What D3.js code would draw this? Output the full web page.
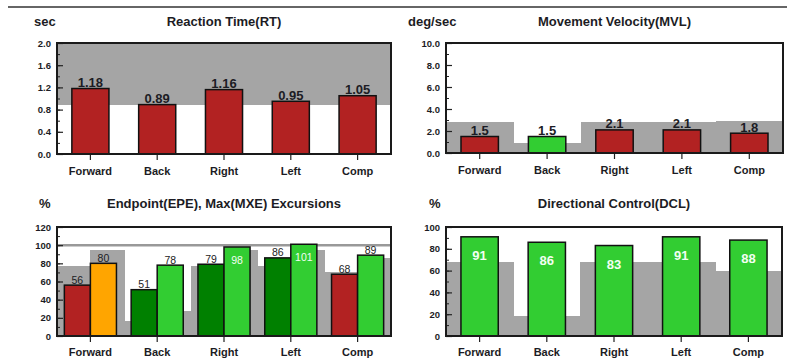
<!DOCTYPE html>
<html><head><meta charset="utf-8">
<script src="https://cdn.jsdelivr.net/npm/d3@7/dist/d3.min.js"></script>
<style>
body{margin:0;background:#fff;}
svg{display:block;font-family:"Liberation Sans",Arial,sans-serif;}
</style>
</head><body>
<svg width="787" height="358"></svg>
<script>
// ---------- data ----------
const categories = ["Forward", "Back", "Right", "Left", "Comp"];

const rtValues   = [1.18, 0.89, 1.16, 0.95, 1.05];
const rtNormLow  = [0.88, 0.88, 0.88, 0.88, 0.88];
const rtTicks    = [0, 0.4, 0.8, 1.2, 1.6, 2.0];

const mvlValues  = [1.5, 1.5, 2.1, 2.1, 1.8];
const mvlNorm    = [2.8, 0.9, 2.8, 2.8, 2.9];
const mvlTicks   = [0, 2, 4, 6, 8, 10];

const epeValues  = [56, 51, 79, 86, 68];
const epeNorm    = [77, 17, 77, 77, 70];
const mxeValues  = [80, 78, 98, 101, 89];
const mxeNorm    = [95, 28, 95, 95, 86];
const excTicks   = [0, 20, 40, 60, 80, 100, 120];

const dclValues  = [91, 86, 83, 91, 88];
const dclNorm    = [68, 18, 68, 68, 60];
const dclTicks   = [0, 20, 40, 60, 80, 100];

// ---------- styles ----------
const RED = "#b22222", LIME = "#32cd32", DKGREEN = "#008000", ORANGE = "#ffa500";
const GRAY = "#a5a5a5", INK = "#1c1c24";

const svg = d3.select("svg");

svg.append("line").attr("x1", 8).attr("x2", 787).attr("y1", 7).attr("y2", 7)
  .attr("stroke", "#333").attr("stroke-width", 1.4);

function panel(o) {
  const g = svg.append("g");
  const x = d3.scaleBand().domain(categories).range([o.x0, o.x1]);
  const y = d3.scaleLinear().domain([0, o.max]).range([o.y1, o.y0]);
  const bw = x.bandwidth();

  // unit & title
  g.append("text").attr("x", o.unitX).attr("y", o.titleY)
    .attr("font-size", 13).attr("font-weight", "bold").attr("fill", INK).text(o.unit);
  g.append("text").attr("x", (o.x0 + o.x1) / 2).attr("y", o.titleY)
    .attr("text-anchor", "middle").attr("font-size", 13).attr("font-weight", "bold")
    .attr("fill", INK).text(o.title);

  const bg = g.append("g").attr("shape-rendering", "crispEdges").attr("fill", GRAY);
  // gray normal areas
  if (o.grayAbove) {
    categories.forEach((c, i) => {
      bg.append("rect").attr("x", x(c)).attr("width", bw + 1)
        .attr("y", y(o.max)).attr("height", y(o.grayAbove[i]) - y(o.max));
    });
  }
  if (o.grayBelow) {
    categories.forEach((c, i) => {
      bg.append("rect").attr("x", x(c)).attr("width", bw + 1)
        .attr("y", y(o.grayBelow[i])).attr("height", y(0) - y(o.grayBelow[i]));
    });
  }
  if (o.grayPairs) {
    categories.forEach((c, i) => {
      o.grayPairs.forEach((arr, k) => {
        bg.append("rect").attr("x", x(c) + k * bw / 2).attr("width", bw / 2 + 1)
          .attr("y", y(arr[i])).attr("height", y(0) - y(arr[i]));
      });
    });
  }
  if (o.refLine != null) {
    g.append("line").attr("x1", o.x0).attr("x2", o.x1)
      .attr("y1", y(o.refLine)).attr("y2", y(o.refLine))
      .attr("stroke", "#999").attr("stroke-width", 2.5);
  }

  // bars
  o.series.forEach((s) => {
    const w = bw * s.width;
    categories.forEach((c, i) => {
      const v = s.values[i];
      const cx = x(c) + bw / 2 + s.offset * w;
      g.append("rect").attr("x", cx - w / 2).attr("width", w)
        .attr("y", y(v)).attr("height", y(0) - y(v))
        .attr("fill", s.color(v, i)).attr("stroke", "#111").attr("stroke-width", 1.5);
      const inside = s.inside(v, i);
      g.append("text").attr("x", cx).attr("y", inside ? y(v) + s.insideDy : y(v) - 1.5)
        .attr("text-anchor", "middle").attr("font-size", s.fontSize)
        .attr("font-weight", s.bold ? "bold" : "normal")
        .attr("fill", inside ? "#f2fff2" : INK).text(s.fmt ? s.fmt(v) : v);
    });
  });

  // minor ticks
  g.append("g").attr("transform", `translate(${o.x0},0)`)
    .call(d3.axisLeft(y).tickValues(o.minor).tickSize(-3).tickFormat(""))
    .call(a => a.select(".domain").remove())
    .call(a => a.selectAll("line").attr("stroke", "#222"));
  // major ticks
  g.append("g").attr("transform", `translate(${o.x0},0)`)
    .call(d3.axisLeft(y).tickValues(o.ticks).tickSize(-6).tickPadding(6).tickFormat(o.tickFmt))
    .call(a => a.select(".domain").remove())
    .call(a => a.selectAll("line").attr("stroke", "#222").attr("stroke-width", 1.2))
    .call(a => a.selectAll("text").attr("font-size", 9.5).attr("font-weight", "bold")
      .attr("fill", INK).attr("font-family", "Liberation Sans, Arial, sans-serif"));
  // x axis
  g.append("g").attr("transform", `translate(0,${o.y1})`)
    .call(d3.axisBottom(x).tickSize(6).tickPadding(o.xPad))
    .call(a => a.select(".domain").remove())
    .call(a => a.selectAll("line").attr("stroke", "#222").attr("stroke-width", 1.2))
    .call(a => a.selectAll("text").attr("font-size", 11).attr("font-weight", "bold")
      .attr("fill", INK).attr("font-family", "Liberation Sans, Arial, sans-serif"));

  // frame
  g.append("rect").attr("x", o.x0).attr("y", o.y0)
    .attr("width", o.x1 - o.x0).attr("height", o.y1 - o.y0)
    .attr("fill", "none").attr("stroke", "#1a1a1a").attr("stroke-width", 2);
}

const range = (a, b, s) => d3.range(a, b + s / 2, s);

panel({
  x0: 57, x1: 391, y0: 43, y1: 154, max: 2.0, xPad: 7,
  unit: "sec", unitX: 34, title: "Reaction Time(RT)", titleY: 26,
  ticks: rtTicks, minor: range(0, 2, 0.2), tickFmt: d3.format(".1f"),
  grayAbove: rtNormLow,
  series: [{
    values: rtValues, width: 0.555, offset: 0, fontSize: 13, bold: true, fmt: d3.format(".2f"),
    color: (v, i) => v > rtNormLow[i] ? RED : LIME, inside: () => false
  }]
});

panel({
  x0: 446, x1: 783, y0: 43, y1: 153, max: 10, xPad: 7,
  unit: "deg/sec", unitX: 408, title: "Movement Velocity(MVL)", titleY: 26,
  ticks: mvlTicks, minor: range(0, 10, 1), tickFmt: d3.format(".1f"),
  grayBelow: mvlNorm,
  series: [{
    values: mvlValues, width: 0.555, offset: 0, fontSize: 13, bold: true, fmt: d3.format(".1f"),
    color: (v, i) => v >= mvlNorm[i] ? LIME : RED, inside: () => false
  }]
});

panel({
  x0: 57, x1: 391, y0: 227, y1: 336, max: 120, xPad: 6,
  unit: "%", unitX: 39, title: "Endpoint(EPE), Max(MXE) Excursions", titleY: 208,
  ticks: excTicks, minor: range(0, 120, 10), tickFmt: d3.format("d"),
  grayPairs: [epeNorm, mxeNorm], refLine: 100,
  series: [
    { values: epeValues, width: 0.39, offset: -0.5, fontSize: 10.5,
      color: (v, i) => v >= epeNorm[i] ? DKGREEN : RED, inside: v => v > 92, insideDy: 17 },
    { values: mxeValues, width: 0.39, offset: 0.5, fontSize: 10.5,
      color: (v, i) => v >= mxeNorm[i] ? LIME : ORANGE, inside: v => v > 92, insideDy: 17 }
  ]
});

panel({
  x0: 446, x1: 782, y0: 227, y1: 336, max: 100, xPad: 6,
  unit: "%", unitX: 429, title: "Directional Control(DCL)", titleY: 208,
  ticks: dclTicks, minor: range(0, 100, 10), tickFmt: d3.format("d"),
  grayBelow: dclNorm,
  series: [{
    values: dclValues, width: 0.555, offset: 0, fontSize: 13, bold: true,
    color: (v, i) => v >= dclNorm[i] ? LIME : RED, inside: () => true, insideDy: 23
  }]
});
</script>
</body></html>
